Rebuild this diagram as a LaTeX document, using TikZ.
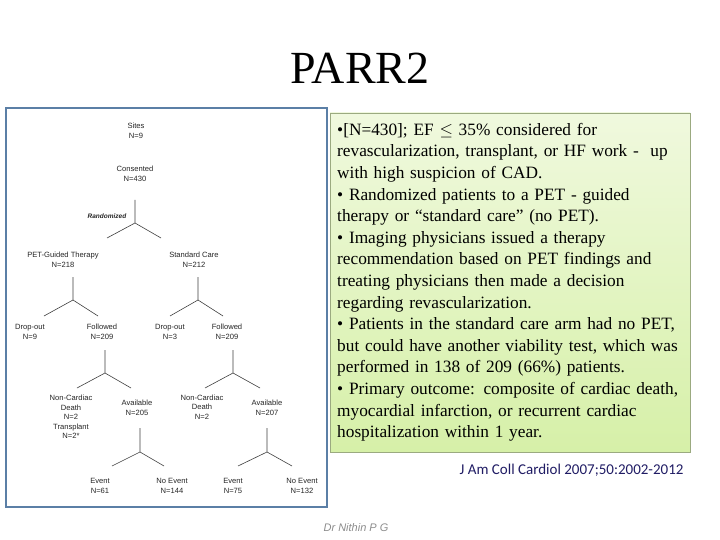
\documentclass[tikz,border=0pt]{standalone}
\usepackage{fontspec}
\setmainfont{Liberation Serif}
\newfontfamily\treefont{Liberation Sans}
\newfontfamily\citefont{Carlito}
\begin{document}
\begin{tikzpicture}[x=1pt,y=-1pt,
  t/.style={font=\treefont\fontsize{7.6}{9.6}\selectfont,text=black!85,align=center,inner sep=0pt},
  br/.style={draw=black!75,line width=0.6pt}]
\useasboundingbox (0,0) rectangle (720,540);
\node[font=\fontsize{46}{46}\selectfont] (title) at (360,68) {PARR2};
\draw[draw=white,fill=white] (6,108) rectangle (327,507);
\node[draw={rgb,255:red,91;green,127;blue,166},line width=2.5pt,minimum width=321pt,minimum height=399pt,inner sep=0pt] (frame) at (166.5,307.5) {};
% tree
\node[t] (sites) at (136,131) {Sites\\N=9};
\node[t] (cons) at (135,174) {Consented\\N=430};
\node[t,font=\treefont\bfseries\itshape\fontsize{6.5}{8}\selectfont] (rand) at (107,216) {Randomized};
\node[t] (pet) at (63,260) {PET-Guided Therapy\\N=218};
\node[t] (std) at (194,260) {Standard Care\\N=212};
\node[t] (d1) at (30,332) {Drop-out\\N=9};
\node[t] (f1) at (102,332) {Followed\\N=209};
\node[t] (d2) at (170,332) {Drop-out\\N=3};
\node[t] (f2) at (227,332) {Followed\\N=209};
\node[t] (nc1) at (71,417) {Non-Cardiac\\Death\\N=2\\Transplant\\N=2*};
\node[t] (av1) at (137,408) {Available\\N=205};
\node[t] (nc2) at (202,407) {Non-Cardiac\\Death\\N=2};
\node[t] (av2) at (267,408) {Available\\N=207};
\node[t] (e1) at (100,486) {Event\\N=61};
\node[t] (ne1) at (172,486) {No Event\\N=144};
\node[t] (e2) at (233,486) {Event\\N=75};
\node[t] (ne2) at (302,486) {No Event\\N=132};
% junctions
\coordinate (j0a) at (135,200); \coordinate (j0) at (135,223);
\coordinate (j0l) at (107,238); \coordinate (j0r) at (161,238);
\coordinate (j1a) at (73,277); \coordinate (j1) at (73,300);
\coordinate (j1l) at (44,316); \coordinate (j1r) at (98,316);
\coordinate (j2a) at (198,277); \coordinate (j2) at (198,300);
\coordinate (j2l) at (170,316); \coordinate (j2r) at (223,316);
\coordinate (j3a) at (105,350); \coordinate (j3) at (105,373);
\coordinate (j3l) at (77,388); \coordinate (j3r) at (131,388);
\coordinate (j4a) at (233,350); \coordinate (j4) at (233,373);
\coordinate (j4l) at (205,388); \coordinate (j4r) at (260,388);
\coordinate (j5a) at (140,428); \coordinate (j5) at (140,452);
\coordinate (j5l) at (112,466); \coordinate (j5r) at (164,466);
\coordinate (j6a) at (267,428); \coordinate (j6) at (267,452);
\coordinate (j6l) at (238,466); \coordinate (j6r) at (292,466);
\foreach \j in {j0,j1,j2,j3,j4,j5,j6}{
  \draw[br] (\j a) -- (\j) -- (\j l) (\j) -- (\j r);}
% text box
\node[draw={rgb,255:red,155;green,170;blue,128},line width=0.6pt,
  top color={rgb,255:red,240;green,249;blue,222},bottom color={rgb,255:red,214;green,240;blue,168},
  minimum width=360pt,minimum height=339pt,inner sep=0pt] (box) at (510,282.5) {};
\node[anchor=north west,align=left,inner sep=0pt,text width=356pt,
  font=\fontsize{17.3}{21.6}\selectfont] (txt) at (337,123) {%
\textbullet[N=430]; EF $\leq$ 35\% considered for\\
revascularization, transplant, or HF work -\ \ up\\
with high suspicion of CAD.\\
\textbullet{} Randomized patients to a PET - guided\\
therapy or “standard care” (no PET).\\
\textbullet{} Imaging physicians issued a therapy\\
recommendation based on PET findings and\\
treating physicians then made a decision\\
regarding revascularization.\\
\textbullet{} Patients in the standard care arm had no PET,\\
but could have another viability test, which was\\
performed in 138 of 209 (66\%) patients.\\
\textbullet{} Primary outcome: composite of cardiac death,\\
myocardial infarction, or recurrent cardiac\\
hospitalization within 1 year.};
\node[anchor=east,font=\citefont\fontsize{15}{15}\selectfont,text={rgb,255:red,32;green,28;blue,100}] (cite) at (687,470) {J Am Coll Cardiol 2007;50:2002-2012};
\node[font=\treefont\itshape\fontsize{11}{11}\selectfont,text=black!45] (auth) at (356,528) {Dr Nithin P G};
\end{tikzpicture}
\end{document}
